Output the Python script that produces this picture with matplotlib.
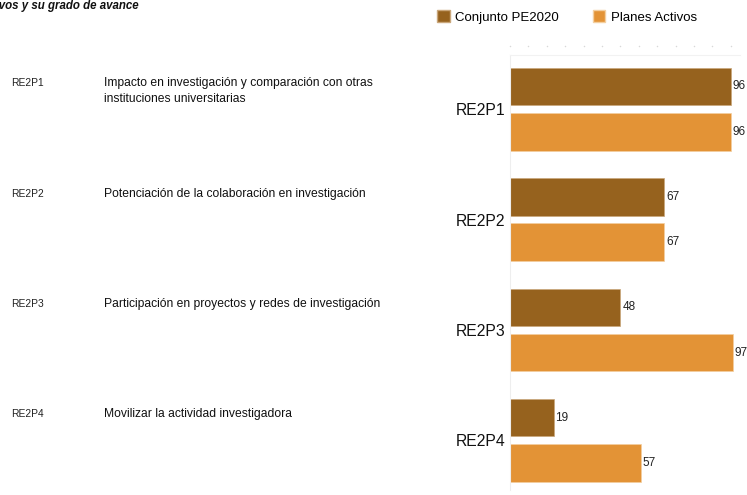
import matplotlib
matplotlib.use("Agg")
import matplotlib.pyplot as plt
import matplotlib.transforms as mtransforms
from matplotlib.patches import Patch
import numpy as np

codes = ["RE2P1", "RE2P2", "RE2P3", "RE2P4"]
descriptions = [
    "Impacto en investigación y comparación con otras\ninstituciones universitarias",
    "Potenciación de la colaboración en investigación",
    "Participación en proyectos y redes de investigación",
    "Movilizar la actividad investigadora",
]
conjunto = [96, 67, 48, 19]
planes = [96, 67, 97, 57]
series_names = ["Conjunto PE2020", "Planes Activos"]
colors = ["#96621E", "#E39336"]
title = "Objetivos y su grado de avance"

plt.rcParams['font.family'] = ['Liberation Sans', 'DejaVu Sans']

fig = plt.figure(figsize=(7.47, 4.95), dpi=100)
ax = fig.add_axes([510/747, 5/495, 230/747, 435/495])

y = np.arange(len(codes))
off = 0.205
h = 0.34
ax.barh(y - off, conjunto, height=h, color=colors[0], edgecolor="#c9a67a", linewidth=0.5)
ax.barh(y + off, planes, height=h, color=colors[1], edgecolor="#f3cfa0", linewidth=0.5)

narrow = ['Liberation Sans Narrow', 'Liberation Sans']
for i in range(len(codes)):
    ax.text(conjunto[i] + 0.8, y[i] - off, str(conjunto[i]), va='center', ha='left',
            fontsize=8.5, family=narrow, color='#222222')
    ax.text(planes[i] + 0.8, y[i] + off, str(planes[i]), va='center', ha='left',
            fontsize=8.5, family=narrow, color='#222222')

ax.set_xlim(0, 100)
ax.set_ylim(3.45, -0.49)
ax.set_yticks(y)
ax.set_yticklabels(codes, fontsize=11.3, color='#111111')
ax.tick_params(axis='y', length=0, pad=3.5)
ax.set_xticks([])
for s in ['right', 'bottom']:
    ax.spines[s].set_visible(False)
ax.spines['left'].set_color('#eeeeee')
ax.spines['top'].set_color('#f2f2f2')
ax.spines['left'].set_linewidth(0.8)
ax.spines['top'].set_linewidth(0.8)

# faint dotted marks above axes
trans_dots = mtransforms.blended_transform_factory(ax.transData, fig.transFigure)
xs = np.arange(0, 97, 8)
ax.scatter(xs, np.full(len(xs), 1 - 46/495), s=1.2, color='#d8d8d8', transform=trans_dots,
           clip_on=False, linewidths=0)

# left text columns
trans = mtransforms.blended_transform_factory(fig.transFigure, ax.transData)
for i in range(len(codes)):
    fig.text(11/747, y[i] - 0.235, codes[i], transform=trans, va='center', ha='left',
             fontsize=7.4, color='#222222')
    for j, ln in enumerate(descriptions[i].split("\n")):
        fig.text(104/747, y[i] - 0.235 + j * 0.145, ln, transform=trans, va='center', ha='left',
                 fontsize=8.7, color='#111111')

# title (cropped at left as in the source)
fig.text(139/747, 1 - 6/495, title, ha='right', va='center', fontsize=8.3,
         fontweight='bold', fontstyle='italic', color='#111111')

# legend
handles = [Patch(facecolor=colors[0], edgecolor='#c9a67a'), Patch(facecolor=colors[1], edgecolor='#f3cfa0')]
fig.legend(handles, series_names, loc='center left', bbox_to_anchor=(437/747, 1 - 17/495),
           ncol=2, frameon=False, fontsize=9.5, handlelength=0.95, handleheight=0.95,
           handletextpad=0.4, columnspacing=2.6, borderaxespad=0, borderpad=0)

fig.savefig("out.png", dpi=100)
